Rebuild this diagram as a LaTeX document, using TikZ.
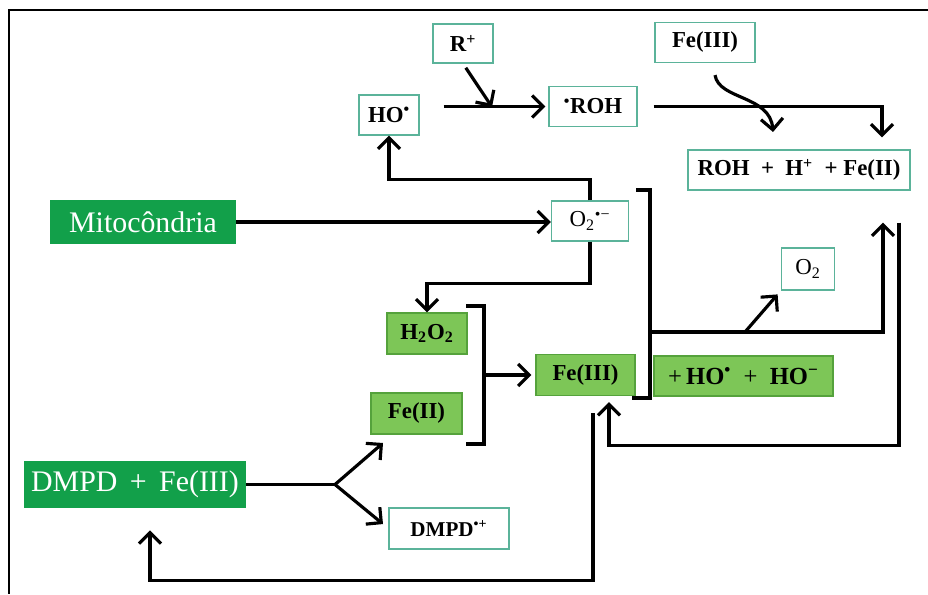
\documentclass[tikz,border=0pt]{standalone}
\usepackage{fontspec}
\setmainfont{Liberation Serif}
\usepackage{xcolor}
\usepackage{tikz}
\usetikzlibrary{arrows.meta,positioning,calc}
\definecolor{edge}{HTML}{5BB39A}
\definecolor{leaf}{HTML}{7DC657}
\definecolor{leafline}{HTML}{55A23C}
\definecolor{deep}{HTML}{12A04A}
\tikzset{
  wbox/.style={draw=edge,line width=0.7pt,fill=white,inner sep=0pt,minimum height=0.8cm},
  gbox/.style={draw=leafline,line width=0.7pt,fill=leaf,inner sep=0pt,minimum height=0.82cm},
  dbox/.style={fill=deep,text=white,inner sep=0pt,font=\mdseries\fontsize{17}{20}\selectfont},
  rarr/.style={-{Straight Barb[length=2.2mm,width=4.4mm]},line width=1.8pt,draw=black},
  rline/.style={line width=1.8pt,draw=black}
}

\begin{document}
\begin{tikzpicture}[x=0.02cm,y=-0.02cm,font=\bfseries\fontsize{13}{15}\selectfont]
  \useasboundingbox (0,0) rectangle (928,594);
  \draw[line width=1.2pt] (928,10) -- (9,10) -- (9,594);
  % top row
  \node[wbox,minimum width=1.2cm,minimum height=0.78cm] (rplus) at (463,43.5) {R\textsuperscript{+}};
  \node[wbox,minimum width=1.2cm] (hoRad) at (389,115) {HO\textsuperscript{•}};
  \node[wbox,minimum width=1.76cm] (rohRad) at (593,106.5) {\textsuperscript{•}ROH};
  \node[wbox,minimum width=2.0cm] (feTop) at (705,42.5) {Fe(III)};
  \node[wbox,minimum width=4.44cm] (prod) at (799,170) {ROH~~+~~H\textsuperscript{+}~~+~Fe(II)};
  % middle
  \node[dbox,minimum width=3.72cm,minimum height=0.88cm] (mito) at (143,222) {Mitocôndria};
  \node[wbox,minimum width=1.54cm,font=\mdseries\fontsize{13}{15}\selectfont] (superox) at (590,221) {O\textsubscript{2}\textsuperscript{•−}};
  \node[wbox,minimum width=1.06cm,minimum height=0.84cm,font=\mdseries\fontsize{13}{15}\selectfont] (oxy) at (808,269) {O\textsubscript{2}};
  \node[gbox,minimum width=1.6cm] (hperox) at (427,333.5) {H\textsubscript{2}O\textsubscript{2}};
  \node[gbox,minimum width=1.82cm] (feII) at (416.5,413.5) {Fe(II)};
  \node[gbox,minimum width=1.98cm] (feIIIm) at (585.5,375) {Fe(III)};
  \node[gbox,minimum width=3.58cm,minimum height=0.8cm,font=\bfseries\fontsize{14}{16}\selectfont] (hoMix) at (743.5,376) {{\mdseries +}\,HO\textsuperscript{•}~~{\mdseries +}~~HO\textsuperscript{−}};
  % bottom
  \node[dbox,minimum width=4.44cm,minimum height=0.94cm] (dmpd) at (135,484.5) {DMPD\,~+~\,Fe(III)};
  \node[wbox,minimum width=2.4cm,minimum height=0.82cm,font=\bfseries\fontsize{12}{14}\selectfont] (dmpdRad) at (449,528.5) {DMPD\textsuperscript{•+}};
  \coordinate (rJoin) at (492,107);
  \coordinate (oxyFoot) at (745,332);
  \coordinate (bigMid) at (650,332);
  \coordinate (smallMid) at (484,375);
  \coordinate (fork) at (335,484.5);
  \coordinate (forkUp) at (383,443);
  % connectors
  \draw[rarr] (mito.east) -- (mito.east -| superox.west);
  \draw[rarr] (superox.north) -- ++(0,-21) -| (hoRad.south);
  \draw[rarr] (superox.south) -- ++(0,42) -| (hperox.north);
  \draw[rarr,shorten <=0.48cm,shorten >=0.06cm] (hoRad.east |- rohRad.west) -- (rohRad.west);
  \draw[rarr,shorten <=0.1cm] (rplus.south) -- (rJoin);
  \draw[rarr,shorten <=0.32cm] (rohRad.east) -| ($(prod.north)+(83,-12)$);
  \draw[rarr] ($(feTop.south)+(10,12)$) .. controls (719,100) and (770,95) .. (773,132);
  % brackets
  \draw[rline] (636,190) -- (650,190) -- (650,398) -- (632,398);
  \draw[rline] (466,306) -- (484,306) -- (484,444) -- (466,444);
  \draw[rarr] (bigMid) -| ($(prod.south)+(84,32)$);
  \draw[rarr,shorten >=0.1cm] (oxyFoot) -- (oxy.south west);
  \draw[rarr,shorten >=0.08cm] (smallMid) -- (feIIIm.west);
  \draw[rarr] ($(prod.south)+(100,32)$) |- ($(feIIIm.south)+(23.5,49)$) -- ($(feIIIm.south)+(23.5,6)$);
  \draw[rarr] ($(feIIIm.south)+(7.5,17)$) -- ++(0,167) -| ($(dmpd.south)+(15,22)$);
  \draw[rline] (dmpd.east) -- (fork);
  \draw[rarr] (fork) -- (forkUp);
  \draw[rarr,shorten >=0.14cm] (fork) -- (dmpdRad.west);
\end{tikzpicture}
\end{document}
